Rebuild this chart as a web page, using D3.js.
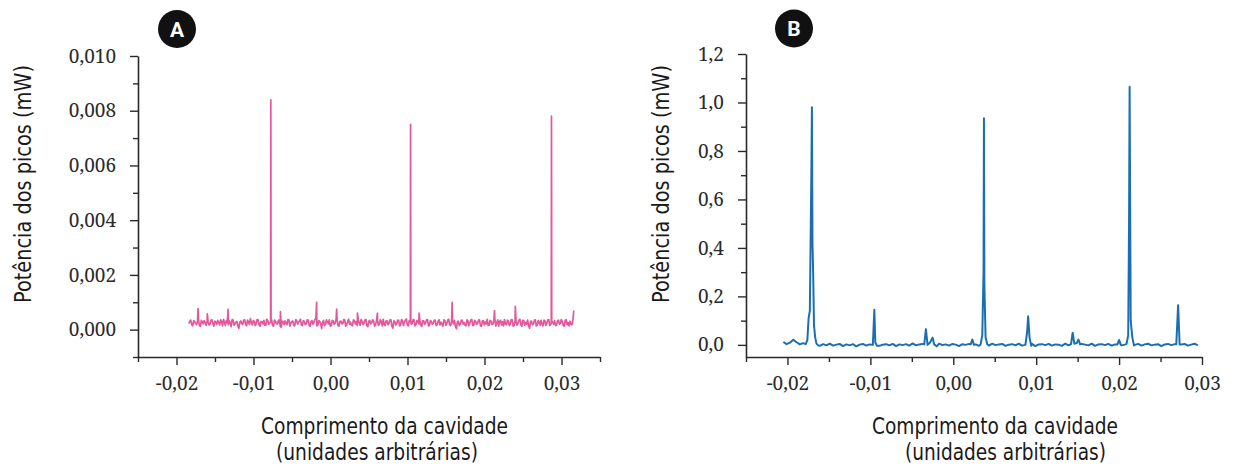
<!DOCTYPE html>
<html>
<head>
<meta charset="utf-8">
<script src="https://cdn.jsdelivr.net/npm/d3@7"></script>
<style>
  html, body { margin: 0; padding: 0; background: #fff; }
  svg { display: block; }
</style>
</head>
<body>
<svg id="chart" width="1235" height="470"></svg>
<script>
// ---------------- DATA ----------------
// Panel A: peak power in µW (1 µW = 0,001 mW)
const xTicksA = [-0.02, -0.01, 0, 0.01, 0.02, 0.03];
const xTickLabelsA = ["-0,02", "-0,01", "0,00", "0,01", "0,02", "0,03"];
const yTicksA = [0, 2, 4, 6, 8, 10];              // µW
const yTickLabelsA = ["0,000", "0,002", "0,004", "0,006", "0,008", "0,010"];
const xMinorA = [-0.025, -0.015, -0.005, 0.005, 0.015, 0.025, 0.035];
const yMinorA = [-1, 1, 3, 5, 7, 9];

// baseline noise samples of A (µW), sampled from x = -0.0184 every 0.00025
const baseStartA = -0.0184, baseStepA = 0.00025;
const baseValsA = [
  .22,.35,.14,.30,.18,.37,.12,.28,.33,.16,
  .31,.20,.36,.13,.27,.34,.17,.29,.38,.15,
  .26,.33,.11,.35,.21,.30,.05,.32,.19,.36,
  .14,.28,.40,.17,.31,.22,.36,.12,.29,.34,
  .16,.33,.24,.37,.13,.30,.20,.35,.08,.29,
  .32,.18,.36,.23,.31,.14,.34,.27,.38,.15,
  .30,.21,.35,.12,.33,.26,.39,.17,.30,.04,
  .34,.19,.28,.36,.15,.32,.24,.37,.13,.31,
  .22,.35,.18,.38,.27,.14,.33,.29,.36,.16,
  .30,.23,.37,.11,.34,.26,.31,.18,.35,.20,
  .29,.38,.15,.32,.24,.36,.06,.30,.21,.34,
  .17,.33,.27,.39,.14,.31,.22,.36,.19,.28,
  .35,.12,.32,.25,.37,.16,.30,.23,.34,.18,
  .36,.27,.13,.33,.21,.38,.15,.29,.34,.03,
  .31,.19,.35,.26,.14,.32,.24,.37,.17,.30,
  .22,.36,.12,.33,.28,.38,.16,.31,.20,.35,
  .25,.13,.34,.29,.37,.18,.32,.21,.36,.15,
  .30,.24,.38,.12,.33,.27,.35,.05,.31,.20,
  .36,.17,.29,.34,.14,.32,.23,.37,.19,.28,
  .33,.16,.35,.22,.30,.13,.36,.26,.31,.18,
  .70
];
// in-between noise samples of A (µW), from x = -0.018275 every 0.00025
const midStartA = -0.018275, midStepA = 0.00025;
const midValsA = [
  .30,.19,.33,.24,.29,.15,.34,.21,.25,.32,
  .17,.34,.22,.31,.19,.26,.36,.14,.27,.33,
  .18,.24,.37,.16,.28,.13,.27,.22,.35,.20,
  .35,.19,.26,.33,.15,.37,.18,.30,.21,.16,
  .38,.20,.31,.15,.35,.22,.33,.12,.31,.19,
  .24,.37,.13,.30,.17,.36,.20,.32,.16,.33,
  .18,.36,.16,.30,.20,.37,.14,.33,.22,.28,
  .15,.36,.21,.13,.33,.20,.38,.16,.30,.22,
  .37,.13,.30,.20,.16,.36,.21,.15,.24,.37,
  .19,.35,.14,.30,.21,.36,.13,.33,.16,.37,
  .14,.20,.32,.18,.36,.13,.32,.17,.35,.14,
  .37,.15,.35,.18,.33,.20,.37,.14,.34,.21,
  .16,.33,.19,.36,.14,.33,.20,.35,.15,.31,
  .17,.20,.36,.16,.35,.18,.31,.22,.12,.29,
  .15,.33,.20,.17,.36,.14,.35,.15,.34,.19,
  .35,.14,.32,.17,.21,.15,.34,.19,.36,.13,
  .36,.30,.17,.14,.20,.35,.15,.37,.13,.33,
  .16,.35,.18,.34,.16,.20,.14,.30,.18,.34,
  .14,.33,.16,.21,.35,.15,.36,.15,.32,.20,
  .15,.32,.20,.37,.16,.34,.18,.14,.20,.34
];
// spikes / peaks of A: [x, µW]
const peaksA = [
  [[-0.0172, 0.77]],
  [[-0.0160, 0.58]],
  [[-0.0133, 0.74]],
  [[-0.00778, 0.28], [-0.00775, 8.4], [-0.00772, 0.26]],
  [[-0.0065, 0.66]],
  [[-0.0018, 1.0]],
  [[0.0008, 0.75]],
  [[0.0035, 0.60]],
  [[0.0061, 0.60]],
  [[0.01037, 0.30], [0.0104, 7.5], [0.01043, 0.27]],
  [[0.0115, 0.60]],
  [[0.0158, 1.0]],
  [[0.0213, 0.70]],
  [[0.0240, 0.85]],
  [[0.02867, 0.24], [0.0287, 7.8], [0.02873, 0.30]]
];

// Panel B: peak power in mW
const xTicksB = [-0.02, -0.01, 0, 0.01, 0.02, 0.03];
const xTickLabelsB = ["-0,02", "-0,01", "0,00", "0,01", "0,02", "0,03"];
const yTicksB = [0, 0.2, 0.4, 0.6, 0.8, 1.0, 1.2];
const yTickLabelsB = ["0,0", "0,2", "0,4", "0,6", "0,8", "1,0", "1,2"];
const xMinorB = [-0.025, -0.015, -0.005, 0.005, 0.015, 0.025];
const yMinorB = [0.1, 0.3, 0.5, 0.7, 0.9, 1.1];

const baseStartB = -0.0205, baseStepB = 0.0004;
const baseValsB = [
  .012,.003,.009,.021,.011,.002,.007,.001,.004,.010,
  .002,-.004,.003,-.002,.005,-.003,.001,.004,-.005,.002,
  -.002,.003,-.006,.001,.004,-.003,.002,-.001,.005,-.004,
  .001,.003,-.002,.004,-.005,.002,-.001,.003,-.003,.006,
  -.002,.002,.004,-.004,.001,.003,-.002,.005,-.001,.002,
  -.003,.004,.001,-.005,.003,.000,.004,-.002,.002,-.004,
  .003,.001,-.003,.005,-.001,.002,.004,-.004,.001,.003,
  -.002,.005,-.003,.002,.000,.004,-.005,.002,.003,-.001,
  .004,-.003,.002,.001,-.004,.005,-.002,.003,.000,-.003,
  .004,.001,-.002,.005,-.004,.002,.003,-.001,.004,-.003,
  .002,.005,-.002,.001,-.004,.003,.000,.004,-.003,.002,
  .005,-.002,.001,.003,-.005,.002,.004,-.001,.003,-.004,
  .002,.004,-.003,.001,.005,-.002
];
const peaksB = [
  [[-0.0178, .003], [-0.0176, .02], [-0.01745, .11], [-0.0173, .14], [-0.0172, .45], [-0.01712, .70],
   [-0.01705, .98], [-0.01698, .42], [-0.0169, .30], [-0.0168, .08], [-0.01665, .03], [-0.0165, .005], [-0.0163, -.002]],
  [[-0.0097, .0], [-0.00952, .145], [-0.0094, .01], [-0.0092, -.004]],
  [[-0.0035, .002], [-0.0033, .065], [-0.0031, .0], [-0.0028, .01], [-0.0025, .03], [-0.0023, .002], [-0.0020, -.006]],
  [[0.0021, .002], [0.0023, .022], [0.0025, .0]],
  [[0.0033, .002], [0.0035, .04], [0.00365, .30], [0.0037, .935], [0.00375, .25], [0.0039, .03], [0.0041, .003]],
  [[0.0087, .0], [0.0089, .05], [0.00903, .118], [0.0092, .03], [0.0094, -.004]],
  [[0.0142, .003], [0.0144, .05], [0.0146, .005], [0.0149, .008], [0.0151, .022], [0.0153, .002]],
  [[0.0198, .002], [0.0200, .02], [0.0202, .0]],
  [[0.0209, .004], [0.0211, .04], [0.0212, .50], [0.02127, 1.065], [0.02133, .60], [0.0214, .10], [0.0216, .03], [0.0218, -.003]],
  [[0.0269, .003], [0.02712, .164], [0.0273, .002]]
];

const colorA = "#e4579c";
const colorB = "#1b6fb1";

// ---------------- HELPERS ----------------
const serifFont = "Noto Serif";
const titleFont = "DejaVu Sans Condensed";

function buildSeries(samplings, profiles) {
  let pts = [];
  samplings.forEach(([x0, step, vals]) => vals.forEach((v, i) => pts.push([x0 + i * step, v])));
  profiles.forEach(p => {
    const lo = p[0][0], hi = p[p.length - 1][0];
    if (hi > lo) pts = pts.filter(d => d[0] < lo || d[0] > hi);
  });
  profiles.forEach(p => pts.push(...p));
  pts.sort((a, b) => a[0] - b[0]);
  return pts;
}

const svg = d3.select("#chart");
const axisColor = "#2a2a2a";

function drawPanel(cfg) {
  const x = d3.scaleLinear().domain(cfg.xDomain).range(cfg.xRange);
  const y = d3.scaleLinear().domain(cfg.yDomain).range(cfg.yRange);
  const g = svg.append("g");

  const line = d3.line().x(d => x(d[0])).y(d => y(d[1]));
  g.append("path").datum(cfg.series)
    .attr("d", line).attr("fill", "none")
    .attr("stroke", cfg.color).attr("stroke-width", cfg.lw)
    .attr("stroke-linejoin", "round");

  g.append("g").attr("transform", `translate(0,${cfg.yRange[0]})`)
    .call(d3.axisBottom(x).tickValues(cfg.xMinor).tickSize(5).tickSizeOuter(0).tickFormat(""))
    .call(s => s.select(".domain").remove());
  g.append("g").attr("transform", `translate(${cfg.xRange[0]},0)`)
    .call(d3.axisLeft(y).tickValues(cfg.yMinor).tickSize(5).tickSizeOuter(0).tickFormat(""))
    .call(s => s.select(".domain").remove());

  g.append("g").attr("transform", `translate(0,${cfg.yRange[0]})`)
    .call(d3.axisBottom(x).tickValues(cfg.xTicks).tickSize(8).tickSizeOuter(0).tickPadding(12)
      .tickFormat((d, i) => cfg.xLabels[i]));
  g.append("g").attr("transform", `translate(${cfg.xRange[0]},0)`)
    .call(d3.axisLeft(y).tickValues(cfg.yTicks).tickSize(8).tickSizeOuter(0).tickPadding(14)
      .tickFormat((d, i) => cfg.yLabels[i]));

  g.selectAll(".domain").attr("stroke", axisColor).attr("stroke-width", 1.6);
  g.selectAll(".tick line").attr("stroke", axisColor).attr("stroke-width", 1.4);
  g.selectAll(".tick text")
    .attr("font-family", serifFont).attr("font-size", 19)
    .attr("fill", "#2a2a2a");

  g.append("circle").attr("cx", cfg.badge[0]).attr("cy", cfg.badge[1]).attr("r", 19).attr("fill", "#111");
  g.append("text").attr("x", cfg.badge[0]).attr("y", cfg.badge[1] + 7.5)
    .attr("text-anchor", "middle").attr("fill", "#fff")
    .attr("font-family", "Roboto").attr("font-weight", "bold")
    .attr("font-size", 21).text(cfg.letter);

  const t = cfg.titles;
  const title = sel => sel.attr("font-family", titleFont)
    .attr("font-size", 23).attr("fill", "#1a1a1a")
    .attr("text-anchor", "middle").attr("lengthAdjust", "spacingAndGlyphs");
  g.append("text").call(title).attr("x", t.l1[0]).attr("y", t.l1[1])
    .attr("textLength", t.l1[2]).text("Comprimento da cavidade");
  g.append("text").call(title).attr("x", t.l2[0]).attr("y", t.l2[1])
    .attr("textLength", t.l2[2]).text("(unidades arbitrárias)");
  g.append("text").call(title)
    .attr("transform", `translate(${t.yt[0]},${t.yt[1]}) rotate(-90)`)
    .attr("textLength", t.yt[2]).text("Potência dos picos (mW)");
}

drawPanel({
  xDomain: [-0.025, 0.035], xRange: [138, 600],
  yDomain: [-1, 10], yRange: [357, 56],
  series: buildSeries([[baseStartA, baseStepA, baseValsA], [midStartA, midStepA, midValsA]], peaksA),
  color: colorA, lw: 1.7,
  xTicks: xTicksA, xLabels: xTickLabelsA, yTicks: yTicksA, yLabels: yTickLabelsA,
  xMinor: xMinorA, yMinor: yMinorA,
  badge: [177, 29], letter: "A",
  titles: { l1: [384.5, 434, 247], l2: [377, 460, 202], yt: [31, 184, 238] }
});

drawPanel({
  xDomain: [-0.025, 0.03], xRange: [746, 1202],
  yDomain: [-0.05, 1.2], yRange: [357, 54],
  series: buildSeries([[baseStartB, baseStepB, baseValsB]], peaksB),
  color: colorB, lw: 2.0,
  xTicks: xTicksB, xLabels: xTickLabelsB, yTicks: yTicksB, yLabels: yTickLabelsB,
  xMinor: xMinorB, yMinor: yMinorB,
  badge: [794, 28.5], letter: "B",
  titles: { l1: [995, 434, 246], l2: [1005.5, 460, 201], yt: [669, 184, 238] }
});
</script>
</body>
</html>
